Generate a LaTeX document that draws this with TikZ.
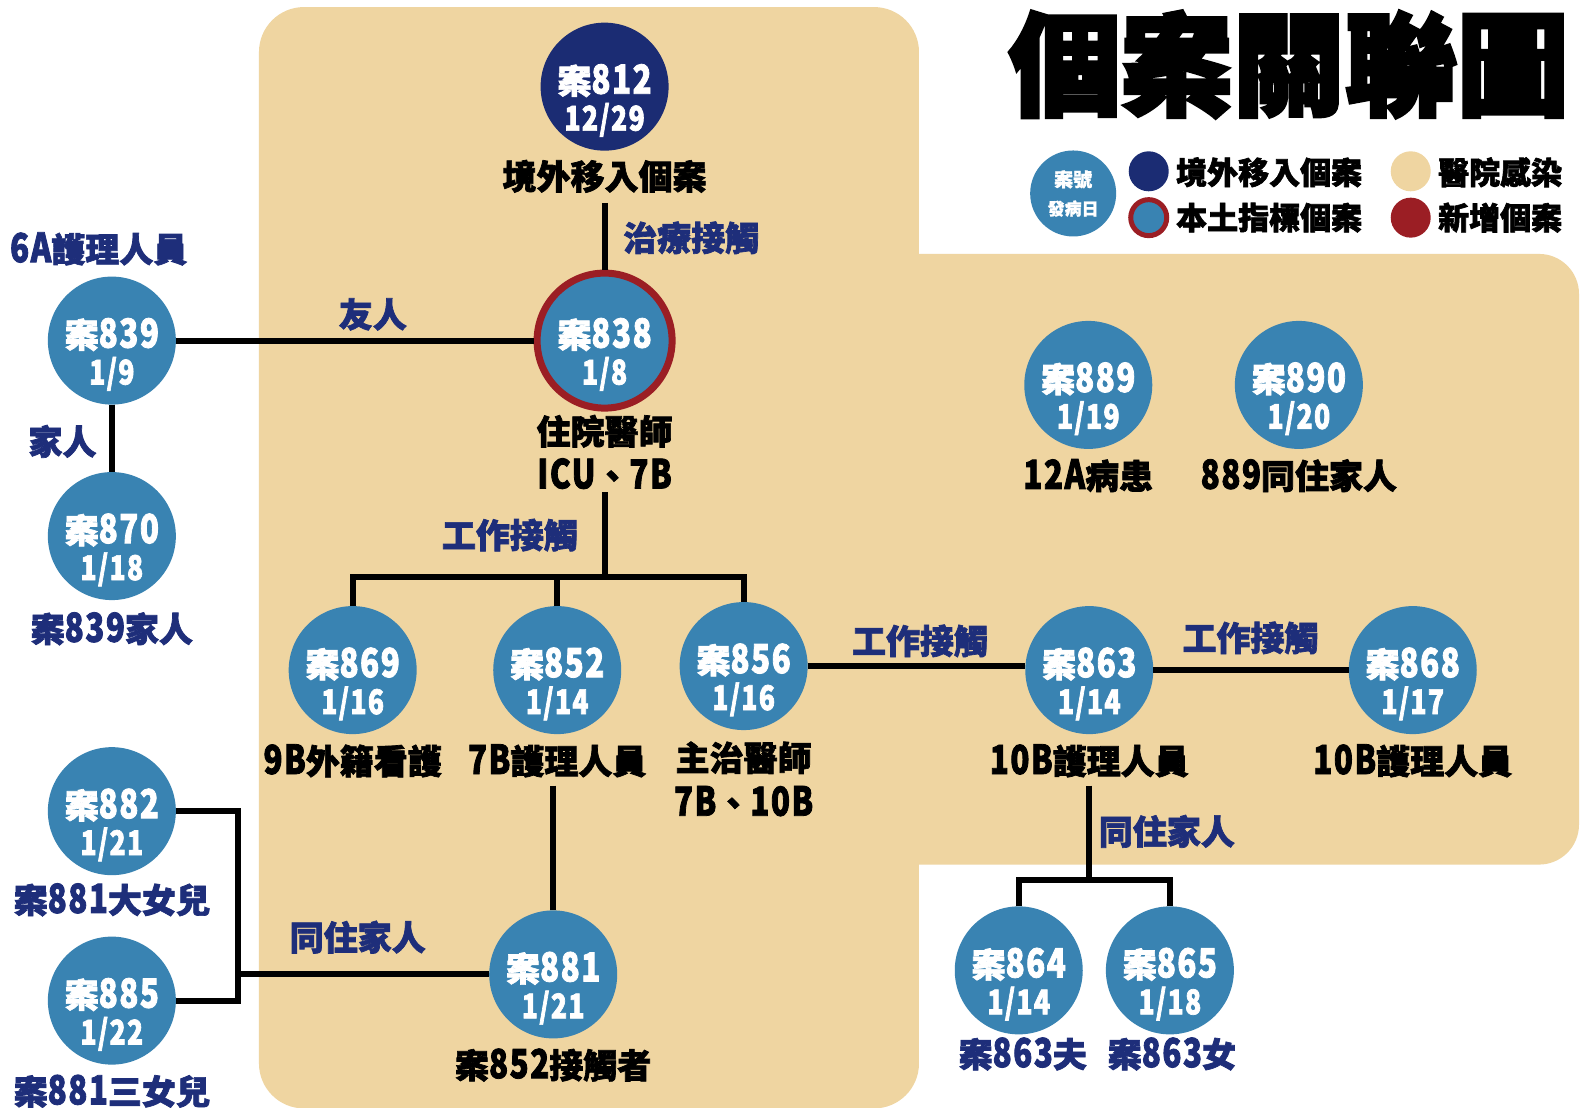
\documentclass[tikz,border=0pt]{standalone}
\usepackage{fontspec}
\usetikzlibrary{calc}
\newfontfamily\hv{Noto Sans CJK TC}[FakeBold=2]
\newfontfamily\hvl{Noto Sans CJK TC}[FakeBold=1]
\newfontfamily\hvn{Noto Sans CJK TC}[FakeBold=2,FakeStretch=0.78,LetterSpace=4]
\newfontfamily\ttl{Noto Sans CJK TC}[FakeBold=3.2]
\definecolor{beige}{RGB}{239,213,161}
\definecolor{cblue}{RGB}{57,131,178}
\definecolor{navy}{RGB}{27,44,115}
\definecolor{cred}{RGB}{155,30,36}
\definecolor{lnavy}{RGB}{30,46,122}
\newcommand\dg[1]{{\hvn\bfseries\fontsize{40}{40}\selectfont #1}}
\newcommand\dgs[1]{{\hvn\bfseries\fontsize{34}{34}\selectfont #1}}
\tikzset{
  casec/.style={circle, fill=cblue, minimum size=128pt, inner sep=0pt, outer sep=0pt},
  ringc/.style={fill=cblue, draw=cred, line width=7pt, minimum size=135pt, outer sep=3.5pt},
  numt/.style={text=white, inner sep=0pt, font=\hv\bfseries\fontsize{34}{36}\selectfont},
  datet/.style={text=white, inner sep=0pt},
  blab/.style={text=black, inner sep=0pt, font=\hv\bfseries\fontsize{34}{38}\selectfont},
  nlab/.style={text=lnavy, inner sep=0pt, font=\hv\bfseries\fontsize{34}{38}\selectfont},
  legt/.style={text=black, inner sep=0pt, anchor=west, font=\hv\bfseries\fontsize{31}{34}\selectfont},
  legdot/.style={circle, minimum size=40pt, inner sep=0pt},
  conn/.style={line width=6pt, draw=black, line join=miter},
}
\newcommand\casenode[6][]{%
  \node[casec,#1] (#2) at (#3,#4) {};
  \node[numt] at ($(#2)+(0,-6)$) {案\dg{#5}};
  \node[datet] at ($(#2)+(0,33)$) {\dgs{#6}};
}
\begin{document}
\begin{tikzpicture}[x=1.00765pt,y=-1.00765pt]
\useasboundingbox (0,0) rectangle (1568,1099);
\fill[white] (0,0) rectangle (1568,1099);
% background regions
\fill[beige, rounded corners=45] (257,7) rectangle (912,1100);
\fill[beige, rounded corners=40] (850,252) rectangle (1567,858);

% title
\node[inner sep=0pt, font=\ttl\bfseries\fontsize{112}{112}\selectfont] (title) at (1279,64) {個案關聯圖};

% legend
\node[circle, fill=cblue, minimum size=86pt, inner sep=0pt] (lgc) at (1065,192) {};
\node[text=white, inner sep=0pt, font=\hvl\bfseries\fontsize{19}{20}\selectfont] (lgca) at (1065,178) {案號};
\node[text=white, inner sep=0pt, font=\hvl\bfseries\fontsize{17}{18}\selectfont] (lgcb) at (1065,207) {發病日};
\node[legdot, fill=navy] (lg1) at (1140,170) {};
\node[legdot, fill=cblue, draw=cred, line width=5pt, minimum size=36pt] (lg2) at (1140,216) {};
\node[legdot, fill=beige] (lg3) at (1400,170) {};
\node[legdot, fill=cred] (lg4) at (1400,216) {};
\node[legt] (lt1) at (1167,171) {境外移入個案};
\node[legt] (lt2) at (1167,216) {本土指標個案};
\node[legt] (lt3) at (1427,171) {醫院感染};
\node[legt] (lt4) at (1427,216) {新增個案};

% case circles
\casenode[fill=navy]{c812}{600}{86}{812}{12/29}
\casenode[ringc]{c838}{600}{338}{838}{1/8}
\casenode{c839}{111}{338}{839}{1/9}
\casenode{c870}{111}{532}{870}{1/18}
\casenode{c869}{350}{665}{869}{1/16}
\casenode{c852}{553}{665}{852}{1/14}
\casenode{c856}{738}{661}{856}{1/16}
\casenode{c863}{1081}{665}{863}{1/14}
\casenode{c868}{1402}{665}{868}{1/17}
\casenode{c889}{1080}{382}{889}{1/19}
\casenode{c890}{1289}{382}{890}{1/20}
\casenode{c864}{1011}{963}{864}{1/14}
\casenode{c865}{1161}{963}{865}{1/18}
\casenode{c881}{549}{967}{881}{1/21}
\casenode{c882}{111}{805}{882}{1/21}
\casenode{c885}{111}{993}{885}{1/22}

% case labels
\node[blab] (l812) at (600,175) {境外移入個案};
\node[blab] (l838a) at (600,428) {住院醫師};
\node[blab] (l838b) at (600,470) {\dg{ICU}、\dg{7B}};
\node[nlab] (l839) at (98,247) {\dg{6A}護理人員};
\node[nlab] (l870) at (111,624) {案\dg{839}家人};
\node[blab] (l869) at (350,755) {\dg{9B}外籍看護};
\node[blab] (l852) at (553,755) {\dg{7B}護理人員};
\node[blab] (l856a) at (738,752) {主治醫師};
\node[blab] (l856b) at (738,795) {\dg{7B}、\dg{10B}};
\node[blab] (l863) at (1081,755) {\dg{10B}護理人員};
\node[blab] (l868) at (1402,755) {\dg{10B}護理人員};
\node[blab] (l889) at (1080,472) {\dg{12A}病患};
\node[blab] (l890) at (1289,472) {\dg{889}同住家人};
\node[nlab] (l864) at (1015,1046) {案\dg{863}夫};
\node[nlab] (l865) at (1163,1046) {案\dg{863}女};
\node[blab] (l881) at (549,1057) {案\dg{852}接觸者};
\node[nlab] (l882) at (111,893) {案\dg{881}大女兒};
\node[nlab] (l885) at (111,1083) {案\dg{881}三女兒};

% relation labels
\node[nlab] (e1) at (686,236) {治療接觸};
\node[nlab] (e2) at (370,312) {友人};
\node[nlab] (e3) at (62,438) {家人};
\node[nlab] (e4) at (506,531) {工作接觸};
\node[nlab] (e5) at (913,636) {工作接觸};
\node[nlab] (e6) at (1241,633) {工作接觸};
\node[nlab] (e7) at (1158,825) {同住家人};
\node[nlab] (e8) at (355,930) {同住家人};

% connectors
\coordinate (j1) at (600,573);
\coordinate (j2) at (1081,873);
\coordinate (b1) at (236,805);
\draw[conn, shorten <=10pt] (l812.south) -- (c838.north);
\draw[conn] (c839.east) -- (c838.west);
\draw[conn] (c839.south) -- (c870.north);
\draw[conn, shorten <=3pt] (l838b.south) -- (j1);
\draw[conn] (c869.north) -- (c869.north |- j1) -- (c856.north |- j1) -- (c856.north);
\draw[conn] (c852.north) -- (c852.north |- j1);
\draw[conn] (c856.east) -- (c856.east -| c863.west);
\draw[conn] (c863.east) -- (c868.west);
\draw[conn, shorten <=8pt] (l863.south) -- (j2);
\draw[conn] (c864.north) -- (c864.north |- j2) -- (c865.north |- j2) -- (c865.north);
\draw[conn, shorten <=8pt] (l852.south -| c881.north) -- (c881.north);
\draw[conn] (c882.east) -- (c882.east -| b1) -- (c885.east -| b1) -- (c885.east);
\draw[conn] (c881.west) -- (c881.west -| b1);
\end{tikzpicture}
\end{document}
